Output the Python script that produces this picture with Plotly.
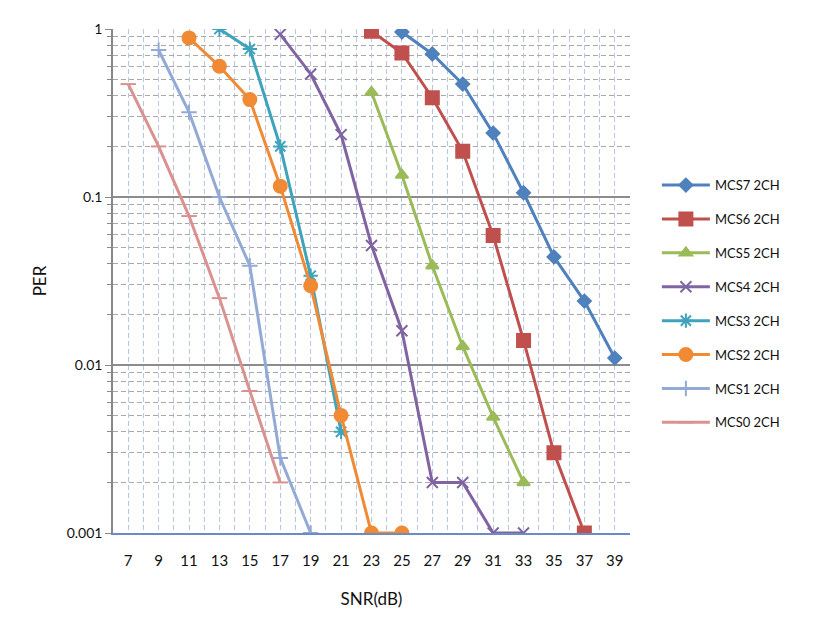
import plotly.graph_objects as go

names = ["MCS7 2CH", "MCS6 2CH", "MCS5 2CH", "MCS4 2CH", "MCS3 2CH", "MCS2 2CH", "MCS1 2CH", "MCS0 2CH"]

mcs7_x = [25, 27, 29, 31, 33, 35, 37, 39]
mcs7_y = [0.96, 0.71, 0.47, 0.24, 0.106, 0.044, 0.024, 0.011]
mcs6_x = [23, 25, 27, 29, 31, 33, 35, 37]
mcs6_y = [0.97, 0.72, 0.39, 0.187, 0.059, 0.014, 0.003, 0.001]
mcs5_x = [23, 25, 27, 29, 31, 33]
mcs5_y = [0.42, 0.135, 0.039, 0.0129, 0.0049, 0.002]
mcs4_x = [17, 19, 21, 23, 25, 27, 29, 31, 33]
mcs4_y = [0.93, 0.54, 0.235, 0.0515, 0.016, 0.002, 0.002, 0.001, 0.001]
mcs3_x = [13, 15, 17, 19, 21]
mcs3_y = [1.0, 0.76, 0.2, 0.034, 0.004]
mcs2_x = [11, 13, 15, 17, 19, 21, 23, 25]
mcs2_y = [0.885, 0.6, 0.38, 0.116, 0.0296, 0.005, 0.001, 0.001]
mcs1_x = [9, 11, 13, 15, 17, 19]
mcs1_y = [0.75, 0.32, 0.1, 0.039, 0.0028, 0.001]
mcs0_x = [7, 9, 11, 13, 15, 17]
mcs0_y = [0.47, 0.2, 0.077, 0.025, 0.007, 0.002]

x_ticks = list(range(7, 40, 2))
y_ticks = [0.001, 0.01, 0.1, 1]
y_tick_text = ["0.001", "0.01", "0.1", "1"]

xs = [mcs7_x, mcs6_x, mcs5_x, mcs4_x, mcs3_x, mcs2_x, mcs1_x, mcs0_x]
ys = [mcs7_y, mcs6_y, mcs5_y, mcs4_y, mcs3_y, mcs2_y, mcs1_y, mcs0_y]
colors = ["#4F81BD", "#C0504D", "#9BBB59", "#8064A2", "#3FA3BC", "#F08A34", "#93AAD6", "#D99290"]
symbols = ["diamond", "square", "triangle-up", "x-thin-open", "asterisk-open", "circle", "cross-thin-open", "line-ew-open"]
sizes = [10, 13, 11, 11, 12, 13, 11, 11]

fig = go.Figure()
for i in range(8):
    fig.add_trace(go.Scatter(
        x=xs[i], y=ys[i], name=names[i], mode="lines+markers",
        legendgroup=names[i],
        line=dict(color=colors[i], width=3),
        marker=dict(symbol=symbols[i], size=sizes[i], color=colors[i],
                    line=dict(color=colors[i], width=2)),
    ))

fig.update_layout(
    width=836, height=643,
    margin=dict(l=105, r=214, t=15, b=118),
    paper_bgcolor="white", plot_bgcolor="white",
    font=dict(family="Lato, Liberation Sans, sans-serif", size=14, color="#111111"),
    legend=dict(x=1.052, y=0.72, xanchor="left", yanchor="top",
                font=dict(size=13, color="#111111"),
                tracegroupgap=14, itemwidth=48, bgcolor="rgba(0,0,0,0)"),
    showlegend=True,
)

fig.update_xaxes(
    range=[6, 40], tickvals=x_ticks, ticktext=[str(v) for v in x_ticks],
    showgrid=True, gridcolor="#B8C8E4", griddash="5px,3px", gridwidth=1,
    minor=dict(dtick=1, tick0=6, showgrid=True, gridcolor="#B8C8E4", griddash="5px,3px", gridwidth=1),
    showline=True, linecolor="#6A8CC4", linewidth=1.5,
    ticks="", zeroline=False, ticklabelstandoff=13,
    tickfont=dict(size=15),
    title=dict(text="SNR(dB)", font=dict(size=17), standoff=25),
)

fig.update_yaxes(
    type="log", range=[-3, 0], tickvals=y_ticks, ticktext=y_tick_text,
    showgrid=True, gridcolor="#8C8C8C", gridwidth=1.5,
    minor=dict(dtick="D1", showgrid=True, gridcolor="#A8A8A8", griddash="5px,3px", gridwidth=1,
               ticks="outside", ticklen=4, tickcolor="#888888"),
    showline=True, linecolor="#888888", linewidth=1.5,
    ticks="outside", ticklen=6, tickcolor="#888888",
    tickfont=dict(size=14),
    title=dict(text="PER", font=dict(size=17), standoff=16),
)

fig.write_html("out.html")
